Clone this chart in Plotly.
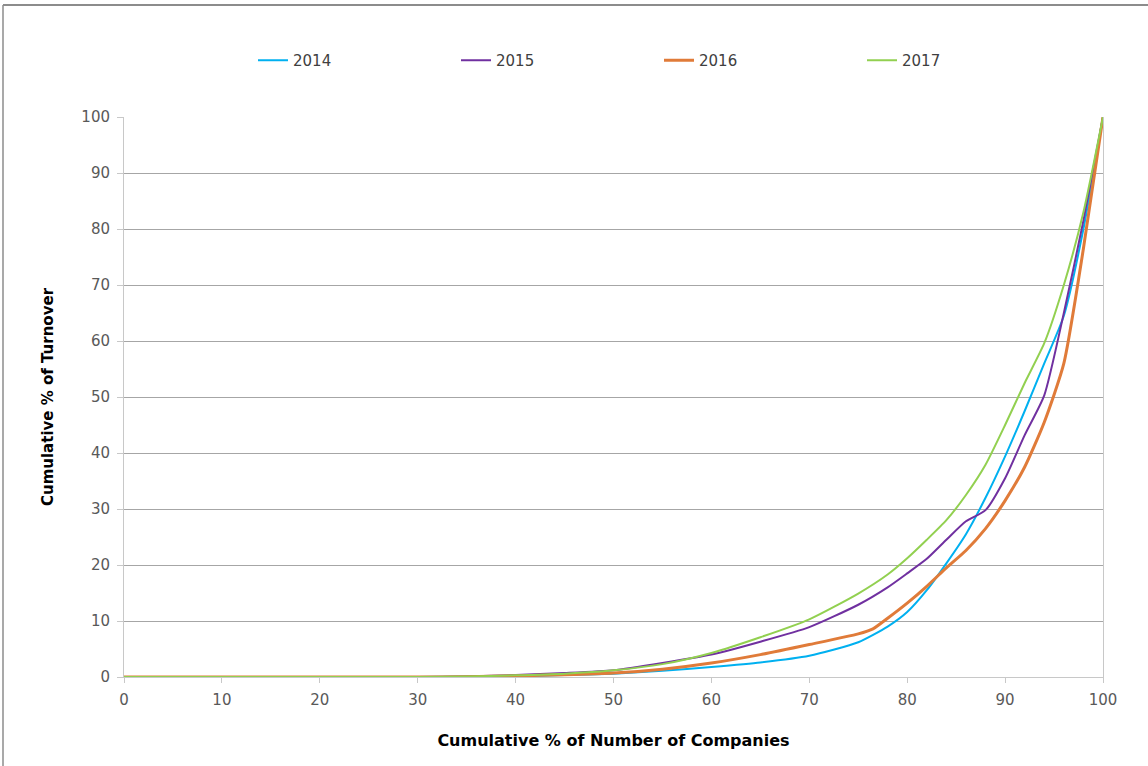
import plotly.graph_objects as go

# Cumulative % of number of companies (x) against cumulative % of turnover (y)
x_2014 = [0, 10, 20, 30, 35, 40, 45, 50, 55, 60, 65, 70, 75, 78, 80, 82, 84, 86, 88, 90, 92, 94, 96, 98, 100]
y_2014 = [0, 0, 0, 0, 0.05, 0.15, 0.35, 0.6, 1.1, 1.8, 2.6, 3.8, 6.2, 9.0, 11.6, 15.5, 20.3, 25.5, 32.0, 39.4, 47.5, 56.0, 64.5, 80.0, 100]

x_2015 = [0, 10, 20, 30, 35, 40, 45, 50, 55, 60, 65, 70, 75, 78, 80, 82, 84, 86, 88, 90, 92, 94, 96, 98, 100]
y_2015 = [0, 0, 0, 0, 0.1, 0.35, 0.7, 1.2, 2.5, 4.0, 6.3, 8.9, 12.9, 16.0, 18.5, 21.1, 24.5, 27.8, 29.8, 35.5, 43.2, 50.3, 65.0, 81.5, 100]

x_2016 = [0, 10, 20, 30, 35, 40, 45, 50, 55, 60, 65, 70, 75, 76.5, 78, 80, 82, 84, 86, 88, 90, 92, 94, 96, 98, 100]
y_2016 = [0, 0, 0, 0, 0.05, 0.2, 0.4, 0.7, 1.4, 2.5, 4.0, 5.8, 7.7, 8.6, 10.5, 13.2, 16.2, 19.5, 22.6, 26.5, 31.5, 37.5, 45.5, 56.0, 76.5, 100]

x_2017 = [0, 10, 20, 30, 35, 40, 45, 50, 55, 60, 65, 70, 75, 78, 80, 82, 84, 86, 88, 90, 92, 94, 96, 98, 100]
y_2017 = [0, 0, 0, 0, 0.1, 0.3, 0.6, 1.2, 2.3, 4.3, 7.1, 10.3, 14.9, 18.3, 21.2, 24.5, 28.0, 32.5, 37.9, 45.0, 52.5, 59.6, 70.0, 83.0, 100]

series = [
    ("2014", x_2014, y_2014, "#00B0F0", 2),
    ("2015", x_2015, y_2015, "#7030A0", 2),
    ("2016", x_2016, y_2016, "#E07B39", 3),
    ("2017", x_2017, y_2017, "#92D050", 2),
]

x_ticks = list(range(0, 101, 10))
y_ticks = list(range(0, 101, 10))

FONT = "DejaVu Sans, Lato, sans-serif"

fig = go.Figure()
for name, xs, ys, color, width in series:
    fig.add_trace(go.Scatter(
        x=xs, y=ys, name=name, mode="lines",
        line=dict(color=color, width=width, shape="spline", smoothing=0.6),
    ))

W, H = 1148, 766
L, R, T, B = 124, 45, 117, 89
pw, ph = W - L - R, H - T - B

fig.update_layout(
    width=W, height=H,
    margin=dict(l=L, r=R, t=T, b=B),
    paper_bgcolor="white", plot_bgcolor="white",
    font=dict(family=FONT, color="#404040", size=15),
    showlegend=True,
    legend=dict(
        orientation="h", x=(253 - L) / pw, xanchor="left",
        y=1 + (T - 44) / ph, yanchor="top",
        entrywidth=158, entrywidthmode="pixels",
        font=dict(family=FONT, size=15, color="#404040"),
        bgcolor="rgba(0,0,0,0)", itemwidth=30,
    ),
    xaxis=dict(
        range=[0, 100], tickvals=x_ticks, ticktext=[str(v) for v in x_ticks],
        showgrid=False, zeroline=False,
        showline=True, linecolor="#C8C8C8", linewidth=1,
        ticks="outside", ticklen=5, tickcolor="#C8C8C8",
        ticklabelstandoff=4,
        tickfont=dict(family=FONT, size=15, color="#595959"),
        title=dict(text="<b>Cumulative % of Number of Companies</b>",
                   font=dict(family=FONT, size=16, color="#000000"), standoff=26),
    ),
    yaxis=dict(
        range=[0, 100], tickvals=y_ticks, ticktext=[str(v) for v in y_ticks],
        showgrid=True, gridcolor="#A6A6A6", gridwidth=1, zeroline=False,
        showline=True, linecolor="#C8C8C8", linewidth=1, mirror=True,
        ticks="outside", ticklen=6, tickcolor="#C8C8C8",
        ticklabelstandoff=4,
        tickfont=dict(family=FONT, size=15, color="#595959"),
        title=dict(text="<b>Cumulative % of Turnover</b>",
                   font=dict(family=FONT, size=15, color="#000000"), standoff=24),
    ),
)

# Chart frame (top and left edges)
fig.add_shape(type="line", xref="paper", yref="paper",
              x0=(3 - L) / pw, x1=(W + 10 - L) / pw,
              y0=1 + (T - 5) / ph, y1=1 + (T - 5) / ph,
              line=dict(color="#8C8C8C", width=2))
fig.add_shape(type="line", xref="paper", yref="paper",
              x0=(3 - L) / pw, x1=(3 - L) / pw,
              y0=1 + (T - 5) / ph, y1=-(B + 10) / ph,
              line=dict(color="#8C8C8C", width=1.5))

fig.write_html("out.html")
